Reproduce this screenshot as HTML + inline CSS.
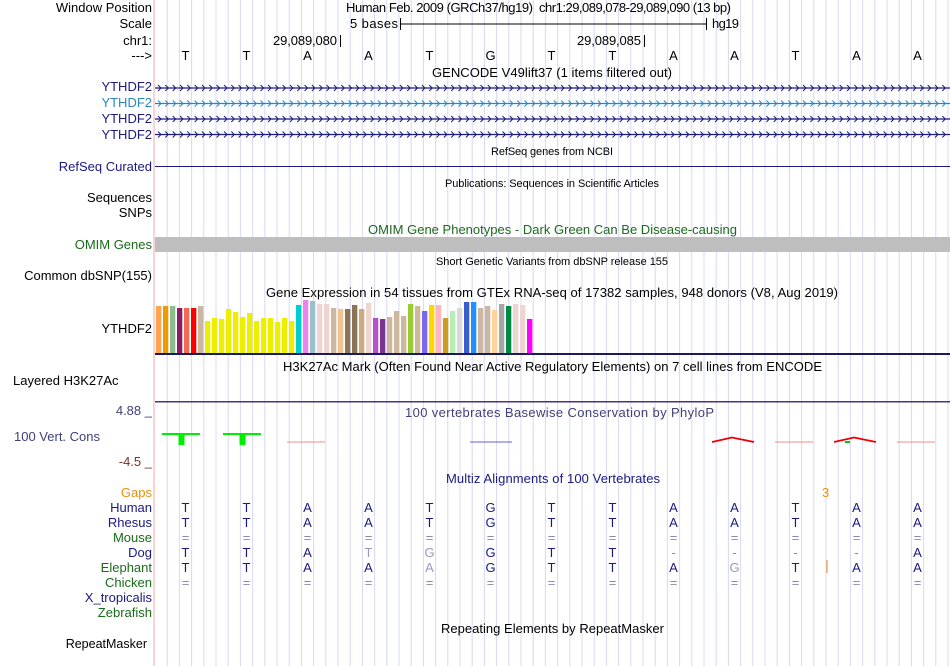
<!DOCTYPE html>
<html><head><meta charset="utf-8">
<style>
html,body{margin:0;padding:0;background:#fff;}
body{width:950px;height:666px;overflow:hidden;position:relative;font-family:"Liberation Sans",sans-serif;}
svg{position:absolute;left:0;top:0;}
text{font-family:"Liberation Sans",sans-serif;}
</style></head>
<body>
<svg id="g" width="950" height="666" viewBox="0 0 950 666">
<g id="grid"></g>
<rect x="155" y="237" width="795" height="15" fill="#bebebe"/>
<line x1="154" y1="0" x2="154" y2="666" stroke="#f4a8a8" stroke-width="1"/>
<g font-size="13" id="labels" text-anchor="end">
<text x="152" y="12" fill="#000">Window Position</text>
<text x="152" y="28" fill="#000">Scale</text>
<text x="152" y="45" fill="#000">chr1:</text>
<text x="152" y="60" fill="#000">---&gt;</text>
<text x="152" y="91" fill="#1a1a80">YTHDF2</text>
<text x="152" y="107" fill="#2a86c0">YTHDF2</text>
<text x="152" y="123" fill="#1a1a80">YTHDF2</text>
<text x="152" y="139" fill="#1a1a80">YTHDF2</text>
<text x="152" y="171" fill="#1a1a80">RefSeq Curated</text>
<text x="152" y="202" fill="#000">Sequences</text>
<text x="152" y="217" fill="#000">SNPs</text>
<text x="152" y="249" fill="#1a6b1a">OMIM Genes</text>
<text x="152" y="280" fill="#000">Common dbSNP(155)</text>
<text x="152" y="333" fill="#000">YTHDF2</text>
<text x="13" y="385" text-anchor="start" fill="#000">Layered H3K27Ac</text>
<text x="152" y="415" fill="#40407a">4.88 _</text>
<text x="100" y="441" fill="#40407a">100 Vert. Cons</text>
<text x="152" y="466" fill="#7a3030">-4.5 _</text>
<text x="152" y="497" fill="#e8900c">Gaps</text>
<text x="152" y="512" fill="#1a1a80">Human</text>
<text x="152" y="527" fill="#1a1a80">Rhesus</text>
<text x="152" y="542" fill="#1a6b1a">Mouse</text>
<text x="152" y="557" fill="#1a1a80">Dog</text>
<text x="152" y="572" fill="#1a6b1a">Elephant</text>
<text x="152" y="587" fill="#1a6b1a">Chicken</text>
<text x="152" y="602" fill="#1a1a80">X_tropicalis</text>
<text x="152" y="617" fill="#1a6b1a">Zebrafish</text>
<text x="147" y="648" font-size="12.5" fill="#000">RepeatMasker</text>
</g>
<g font-size="13" fill="#000" lengthAdjust="spacingAndGlyphs">
<text x="346" y="12" textLength="187">Human Feb. 2009 (GRCh37/hg19)</text>
<text x="539" y="12" textLength="192">chr1:29,089,078-29,089,090 (13 bp)</text>
<text x="350" y="28" textLength="48">5 bases</text>
<line x1="400" y1="24" x2="706" y2="24" stroke="#000"/>
<line x1="400.5" y1="18" x2="400.5" y2="30" stroke="#000"/>
<line x1="706.5" y1="18" x2="706.5" y2="30" stroke="#000"/>
<text x="712" y="28" textLength="27">hg19</text>
<text x="273" y="45" textLength="64">29,089,080</text>
<line x1="340.5" y1="35" x2="340.5" y2="47" stroke="#000"/>
<text x="577" y="45" textLength="64">29,089,085</text>
<line x1="644.5" y1="35" x2="644.5" y2="47" stroke="#000"/>
</g>
<g font-size="13" lengthAdjust="spacingAndGlyphs">
<text x="432" y="77" textLength="240" fill="#000">GENCODE V49lift37 (1 items filtered out)</text>
<text x="491" y="155" textLength="122" fill="#000" font-size="11">RefSeq genes from NCBI</text>
<text x="445" y="187" textLength="214" fill="#000" font-size="11">Publications: Sequences in Scientific Articles</text>
<text x="368" y="234" textLength="369" fill="#1a6b1a">OMIM Gene Phenotypes - Dark Green Can Be Disease-causing</text>
<text x="436" y="265" textLength="232" fill="#000" font-size="11">Short Genetic Variants from dbSNP release 155</text>
<text x="266" y="297" textLength="572" fill="#000">Gene Expression in 54 tissues from GTEx RNA-seq of 17382 samples, 948 donors (V8, Aug 2019)</text>
<text x="283" y="371" textLength="539" fill="#000">H3K27Ac Mark (Often Found Near Active Regulatory Elements) on 7 cell lines from ENCODE</text>
<text x="405" y="417" textLength="309" fill="#40407a">100 vertebrates Basewise Conservation by PhyloP</text>
<text x="446" y="483" textLength="214" fill="#1a1a80">Multiz Alignments of 100 Vertebrates</text>
<text x="441" y="633" textLength="223" fill="#000">Repeating Elements by RepeatMasker</text>
<text x="822" y="497" fill="#e8900c">3</text>
</g>
<line x1="155" y1="166.5" x2="950" y2="166.5" stroke="#1a1a80"/>
<rect x="155" y="353" width="795" height="2" fill="#1a1a60"/>
<rect x="155" y="401" width="795" height="1.5" fill="#50307a"/>
<g id="genes"></g>
<g id="gtex"></g>
<g id="cons"></g>
<g id="seq" font-size="13" text-anchor="middle"></g>
</svg>
<script>
var NS="http://www.w3.org/2000/svg";
var bases=["T","T","A","A","T","G","T","T","A","A","T","A","A"];
var gtexHeights=[47,47,47,45,45,45,47,32,35,34,44,41,36,40,32,35,35,31,35,32,48,53,52,49,49,45,44,44,48,44,50,35,34,36,42,37,49,47,42,48,48,35,42,45,51,51,45,47,43,49,47,49,48,34];
var gtexColors=["#FFA54F","#EE9A00","#8FBC8F","#8B1C62","#EE6A50","#FF0000","#CDB79E","#EEEE00","#EEEE00","#EEEE00","#EEEE00","#EEEE00","#EEEE00","#EEEE00","#EEEE00","#EEEE00","#EEEE00","#EEEE00","#EEEE00","#EEEE00","#00CED1","#EE82EE","#9AC0CD","#EED5D2","#EED5D2","#CDB79E","#EEC591","#8B7355","#8B7355","#CDAA7D","#EED5D2","#B452CD","#7A378B","#CDB79E","#CDB79E","#CDB79E","#9ACD32","#CDB79E","#7B68EE","#FFD700","#FFB6C1","#CD9B1D","#B4EEB4","#D9D9D9","#3A5FCD","#1E90FF","#CDB79E","#CDB79E","#FFD39B","#A6A6A6","#008B45","#EED5D2","#EED5D2","#FF00FF"];
var human=["T","T","A","A","T","G","T","T","A","A","T","A","A"];
var dog=["T","T","A","T","G","G","T","T","-","-","-","-","A"];
var dogFaint=[0,0,0,1,1,0,0,0,1,1,1,1,0];
var eleph=["T","T","A","A","A","G","T","T","A","G","T","A","A"];
var elephFaint=[0,0,0,0,1,0,0,0,0,1,0,0,0];
var consScores=[3.2,3.2,0.2,0,0,-0.2,0,0,0,1.0,0.2,1.0,0.2];

var baseW=61, x0=155;
function bx(i){return x0+baseW*(i+0.5);}
function mk(tag,attrs,parent){var e=document.createElementNS(NS,tag);for(var k in attrs)e.setAttribute(k,attrs[k]);parent.appendChild(e);return e;}

var grid=document.getElementById('grid');
for(var k=1;k<=65;k++){var gx=x0+k*12.2;if(gx>949)break;
mk('line',{x1:gx,y1:0,x2:gx,y2:666,stroke:'#d8d8f6','stroke-width':1},grid);}

var seq=document.getElementById('seq');
bases.forEach(function(b,i){var t=mk('text',{x:bx(i),y:60,fill:'#000'},seq);t.textContent=b;

});

var genes=document.getElementById('genes');
var gy=[88,103.5,119,134.5], gc=['#1a1a80','#2a86c0','#1a1a80','#1a1a80'];
gy.forEach(function(y,j){
var g=mk('g',{},genes);


mk('line',{x1:155,y1:y,x2:950,y2:y,stroke:gc[j],'stroke-width':1.2},g);
var d='';for(var x=158;x<948;x+=7.33){d+='M'+x.toFixed(1)+' '+(y-3)+'L'+(x+3).toFixed(1)+' '+y+'L'+x.toFixed(1)+' '+(y+3);}
mk('path',{d:d,stroke:gc[j],fill:'none','stroke-width':1},g);});

var gt=document.getElementById('gtex');
gtexHeights.forEach(function(h,i){var r=mk('rect',{x:156+i*7,y:353-h,width:5.3,height:h,fill:gtexColors[i]},gt);

});

var cons=document.getElementById('cons');
var zy=442;
consScores.forEach(function(s,i){var L=x0+baseW*i;
if(s>=2){
var bar=mk('rect',{x:L+7,y:433,width:38,height:2,fill:'#00ee00'},cons);


mk('rect',{x:bx(i)-7,y:433,width:6,height:12,fill:'#00ee00'},cons);}
else if(s>0.5){var p=mk('path',{d:'M'+(L+8)+' '+zy+'L'+(L+28)+' '+(zy-s*4.5)+'L'+(L+50)+' '+zy,stroke:'#ee0000',fill:'none','stroke-width':1.8},cons);

}
else if(s!==0){var ln=mk('line',{x1:L+10,y1:zy,x2:L+48,y2:zy,stroke:'#f08888','stroke-width':1},cons);

}
});
mk('line',{x1:470,y1:zy,x2:512,y2:zy,stroke:'#6060d0','stroke-width':1},cons);
mk('rect',{x:845,y:zy-1,width:5,height:2,fill:'#00cc00'},cons);

function row(arr,y,faint,nm){arr.forEach(function(b,i){var f=faint&&faint[i];var c=b==='='||b==='-'?'#8888b8':(f?'#9999c0':'#1a1a80');
var t=mk('text',{x:bx(i),y:y,fill:c},seq);t.textContent=b;

});}
var eq=bases.map(function(){return '=';});
row(human,512,null,'human');row(human,527,null,'rhesus');row(eq,542,null,'mouse');
row(dog,557,dogFaint,'dog');row(eleph,572,elephFaint,'elephant');row(eq,587,null,'chicken');
mk('line',{x1:827,y1:560,x2:827,y2:573,stroke:'#e8900c','stroke-width':1},seq);
</script>
</body></html>
